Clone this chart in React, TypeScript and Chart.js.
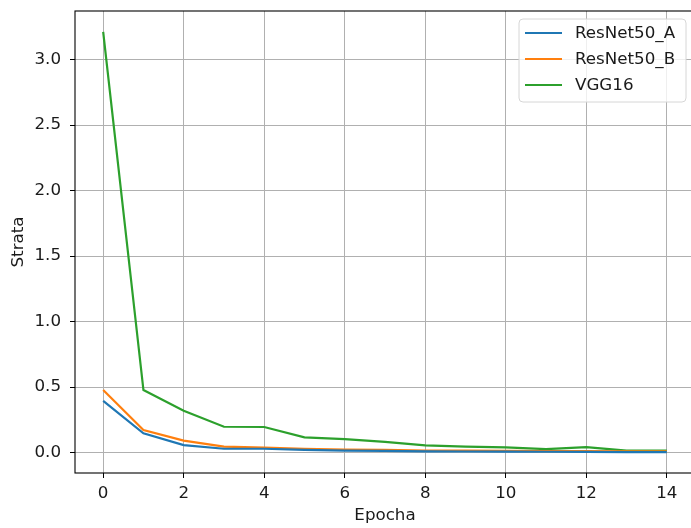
import React, { useEffect, useRef } from "react";
import { Chart, registerables } from "chart.js";

Chart.register(...registerables);

// Training loss per epoch for three networks
const epochs = [0, 1, 2, 3, 4, 5, 6, 7, 8, 9, 10, 11, 12, 13, 14];
const resnetA = [0.395, 0.148, 0.058, 0.030, 0.030, 0.022, 0.016, 0.014, 0.010, 0.009, 0.008, 0.007, 0.006, 0.005, 0.005];
const resnetB = [0.478, 0.173, 0.092, 0.046, 0.038, 0.030, 0.024, 0.022, 0.016, 0.015, 0.014, 0.012, 0.012, 0.010, 0.010];
const vgg16 = [3.21, 0.478, 0.32, 0.198, 0.196, 0.117, 0.104, 0.082, 0.056, 0.046, 0.040, 0.027, 0.042, 0.016, 0.016];

const seriesNames = ["ResNet50_A", "ResNet50_B", "VGG16"];
const seriesColors = ["#1f77b4", "#ff7f0e", "#2ca02c"];
const xTitle = "Epocha";
const yTitle = "Strata";

const FONT = "DejaVu Sans";
const FONT_SIZE = 16.7;
const TEXT_COLOR = "#1a1a1a";

// Full box around the plot area, drawn over the lines
const framePlugin = {
  id: "frame",
  afterDatasetsDraw(chart: any) {
    const { ctx, chartArea: a } = chart;
    ctx.save();
    ctx.strokeStyle = "#000";
    ctx.lineWidth = 1.1;
    ctx.strokeRect(a.left, a.top, a.right - a.left, a.bottom - a.top);
    ctx.restore();
  },
};

// Boxed legend in the upper right corner of the plot area
const legendPlugin = {
  id: "boxLegend",
  afterDraw(chart: any) {
    const { ctx, chartArea: a } = chart;
    const boxRight = 686;
    const boxLeft = 519;
    const boxTop = a.top + 8;
    const rowGap = 26;
    const boxH = 83;
    const r = 4;
    ctx.save();
    ctx.beginPath();
    ctx.moveTo(boxLeft + r, boxTop);
    ctx.arcTo(boxRight, boxTop, boxRight, boxTop + boxH, r);
    ctx.arcTo(boxRight, boxTop + boxH, boxLeft, boxTop + boxH, r);
    ctx.arcTo(boxLeft, boxTop + boxH, boxLeft, boxTop, r);
    ctx.arcTo(boxLeft, boxTop, boxRight, boxTop, r);
    ctx.closePath();
    ctx.fillStyle = "rgba(255,255,255,0.8)";
    ctx.fill();
    ctx.strokeStyle = "#d6d6d6";
    ctx.lineWidth = 1;
    ctx.stroke();

    ctx.font = `${FONT_SIZE}px "${FONT}"`;
    ctx.textBaseline = "middle";
    ctx.textAlign = "left";
    seriesNames.forEach((name, i) => {
      const y = boxTop + 14 + i * rowGap;
      ctx.strokeStyle = seriesColors[i];
      ctx.lineWidth = 2.2;
      ctx.beginPath();
      ctx.moveTo(525, y);
      ctx.lineTo(562, y);
      ctx.stroke();
      ctx.fillStyle = TEXT_COLOR;
      ctx.fillText(name, 575, y + 1);
    });
    ctx.restore();
  },
};

export default function App() {
  const ref = useRef<HTMLCanvasElement | null>(null);

  useEffect(() => {
    if (!ref.current) return;
    Chart.defaults.font.family = FONT;
    Chart.defaults.font.size = FONT_SIZE;
    Chart.defaults.color = TEXT_COLOR;

    const series = [resnetA, resnetB, vgg16];
    const chart = new Chart(ref.current, {
      type: "line",
      data: {
        datasets: series.map((vals, i) => ({
          label: seriesNames[i],
          data: epochs.map((e, j) => ({ x: e, y: vals[j] })),
          borderColor: seriesColors[i],
          backgroundColor: seriesColors[i],
          borderWidth: 2.2,
          pointRadius: 0,
          tension: 0,
          fill: false,
        })),
      },
      options: {
        responsive: false,
        animation: false,
        layout: { padding: { top: 11, right: 5, left: 0, bottom: 0 } },
        plugins: {
          legend: { display: false },
          tooltip: { enabled: false },
        },
        scales: {
          x: {
            type: "linear",
            min: -0.7,
            max: 14.7,
            afterFit: (s: any) => {
              s.height = 55;
              s.paddingLeft = 0;
              s.paddingRight = 0;
            },
            border: { display: false },
            grid: {
              color: "#b0b0b0",
              lineWidth: 1,
              drawTicks: true,
              tickLength: 5,
              tickColor: "#000",
              tickWidth: 1,
            },
            ticks: {
              stepSize: 2,
              includeBounds: false,
              padding: 6,
              maxRotation: 0,
              color: TEXT_COLOR,
            },
            title: {
              display: true,
              text: xTitle,
              color: TEXT_COLOR,
              padding: { top: 0, bottom: 2 },
            },
          },
          y: {
            type: "linear",
            min: -0.155,
            max: 3.37,
            afterFit: (s: any) => {
              s.width = 75;
              s.paddingTop = 0;
              s.paddingBottom = 0;
            },
            border: { display: false },
            grid: {
              color: "#b0b0b0",
              lineWidth: 1,
              drawTicks: true,
              tickLength: 5,
              tickColor: "#000",
              tickWidth: 1,
            },
            ticks: {
              stepSize: 0.5,
              includeBounds: false,
              padding: 9,
              color: TEXT_COLOR,
              callback: (v: any) => Number(v).toFixed(1),
            },
            title: {
              display: true,
              text: yTitle,
              color: TEXT_COLOR,
              padding: { top: 9, bottom: 0 },
            },
          },
        },
      },
      plugins: [framePlugin, legendPlugin],
    });
    return () => chart.destroy();
  }, []);

  return (
    <div style={{ position: "fixed", left: 0, top: 0, width: 700, height: 528, background: "#fff" }}>
      <canvas ref={ref} width={700} height={528} style={{ display: "block" }} />
    </div>
  );
}
